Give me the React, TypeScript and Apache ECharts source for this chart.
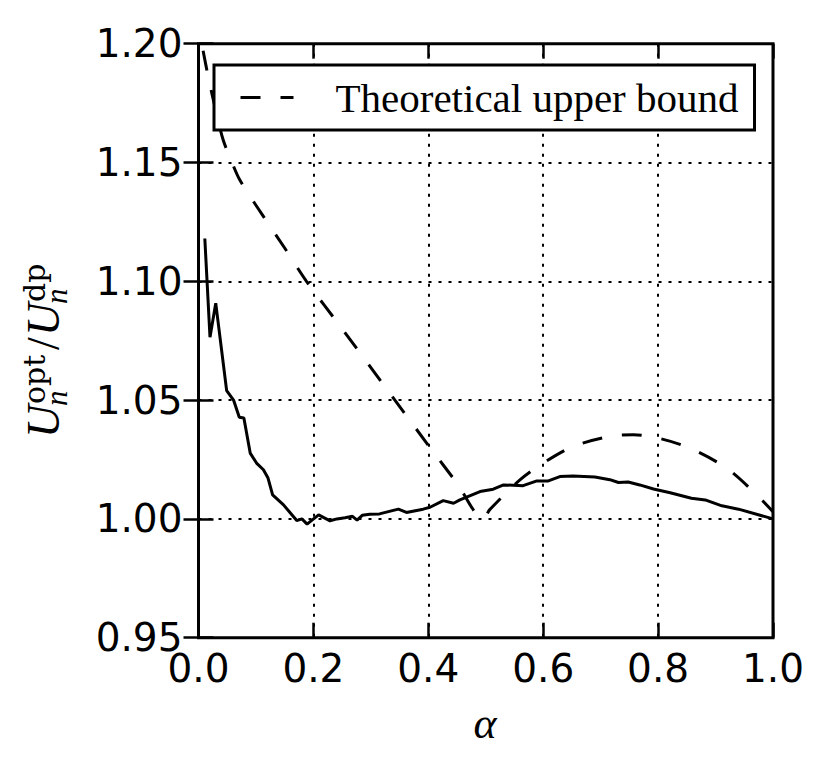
import React, { useEffect, useRef } from "react";
import * as echarts from "echarts";

// Simulated ratio (solid line)
const alphaSim = [
  0.011, 0.02, 0.03, 0.049, 0.061, 0.071, 0.079, 0.09, 0.101, 0.113, 0.121, 0.129,
  0.148, 0.171, 0.18, 0.189, 0.209, 0.229, 0.241, 0.255, 0.268, 0.276, 0.285, 0.298,
  0.315, 0.348, 0.362, 0.391, 0.403, 0.426, 0.444, 0.455, 0.49, 0.513, 0.531, 0.565,
  0.589, 0.609, 0.629, 0.652, 0.69, 0.716, 0.731, 0.748, 0.768, 0.792, 0.821, 0.858,
  0.882, 0.911, 0.94, 1.0,
];
const ratioSim = [
  1.118, 1.0765, 1.0908, 1.054, 1.05, 1.0428, 1.0425, 1.0277, 1.0235, 1.0207, 1.0172, 1.0101,
  1.0059, 0.9993, 1.0, 0.9978, 1.0017, 0.9992, 1.0, 1.0005, 1.0011, 0.9995, 1.0015, 1.002,
  1.0021, 1.0041, 1.0027, 1.0041, 1.0049, 1.0077, 1.0066, 1.008, 1.0115, 1.0125, 1.0143, 1.014,
  1.016, 1.016, 1.0178, 1.0181, 1.0176, 1.0165, 1.0153, 1.0155, 1.0143, 1.0126, 1.011, 1.0087,
  1.008, 1.0055, 1.0041, 1.0,
];

// Theoretical upper bound (dashed line)
const alphaBound = [
  0.008, 0.017, 0.03, 0.043, 0.06, 0.072, 0.1, 0.15, 0.188, 0.25, 0.333, 0.4, 0.45, 0.496,
  0.507, 0.56, 0.6, 0.652, 0.716, 0.757, 0.8, 0.855, 0.919, 0.972, 1.0,
];
const ratioBound = [
  1.197, 1.186, 1.172, 1.1595, 1.149, 1.1426, 1.132, 1.114, 1.1, 1.08, 1.0529, 1.031, 1.015, 1.0,
  1.0039, 1.0165, 1.0235, 1.0305, 1.0347, 1.0354, 1.034, 1.0298, 1.0214, 1.0101, 1.003,
];

const xTicks = [0.0, 0.2, 0.4, 0.6, 0.8, 1.0];
const yTicks = [0.95, 1.0, 1.05, 1.1, 1.15, 1.2];
const boundName = "Theoretical upper bound";

export default function App() {
  const ref = useRef<HTMLDivElement>(null);
  useEffect(() => {
    document.body.style.margin = "0";
    const chart = echarts.init(ref.current!, null, { renderer: "svg" });
    const tickStyle = { color: "#000", width: 2.5 };
    const gridDots = { color: "#000", width: 2, type: [3, 7] as number[] };
    const xBase = {
      type: "value" as const,
      min: xTicks[0],
      max: xTicks[xTicks.length - 1],
      interval: 0.2,
      axisLine: { show: false },
      axisTick: { show: true, inside: true, length: 15, lineStyle: tickStyle },
    };
    const yBase = {
      type: "value" as const,
      min: yTicks[0],
      max: yTicks[yTicks.length - 1],
      interval: 0.05,
      axisLine: { show: false },
      axisTick: { show: true, inside: true, length: 15, lineStyle: tickStyle },
    };
    const labelFont = { fontFamily: "DejaVu Sans", fontSize: 39, color: "#000" };
    const scriptU = { fontFamily: "Liberation Serif", fontStyle: "italic", fontSize: 46, fill: "#000", align: "left", verticalAlign: "middle" };
    const scriptSup = { fontFamily: "DejaVu Serif", fontSize: 30, fill: "#000", align: "left", verticalAlign: "middle" };
    const scriptSub = { fontFamily: "Liberation Serif", fontStyle: "italic", fontSize: 31, fill: "#000", align: "left", verticalAlign: "middle" };
    chart.setOption({
      animation: false,
      backgroundColor: "#fff",
      grid: {
        left: 198.5,
        top: 43.7,
        width: 574.5,
        height: 594,
        show: true,
        borderColor: "#000",
        borderWidth: 3,
        backgroundColor: "transparent",
      },
      xAxis: [
        {
          ...xBase,
          position: "bottom",
          axisLabel: {
            ...labelFont,
            margin: 11,
            showMinLabel: true,
            showMaxLabel: true,
            formatter: (v: number) => v.toFixed(1),
          },
          splitLine: { show: true, lineStyle: gridDots },
        },
        {
          ...xBase,
          position: "top",
          axisLabel: { show: false },
          splitLine: { show: false },
        },
      ],
      yAxis: [
        {
          ...yBase,
          position: "left",
          axisLabel: {
            ...labelFont,
            margin: 16,
            showMinLabel: true,
            showMaxLabel: true,
            formatter: (v: number) => v.toFixed(2),
          },
          splitLine: { show: true, lineStyle: gridDots },
        },
        {
          ...yBase,
          position: "right",
          axisLabel: { show: false },
          splitLine: { show: false },
        },
      ],
      legend: {
        data: [boundName],
        left: 214,
        top: 65,
        padding: [12, 16, 12, 25],
        backgroundColor: "#fff",
        borderColor: "#000",
        borderWidth: 3,
        borderRadius: 0,
        itemWidth: 53,
        itemHeight: 20,
        itemStyle: { opacity: 0 },
        lineStyle: { width: 3, color: "#000", type: [20, 20] },
        textStyle: {
          fontFamily: "Liberation Serif",
          fontSize: 41,
          color: "#000",
          padding: [0, 0, 0, 37],
        },
      },
      series: [
        {
          name: "Simulation",
          type: "line",
          xAxisIndex: 0,
          yAxisIndex: 0,
          data: alphaSim.map((a, i) => [a, ratioSim[i]]),
          symbol: "none",
          showSymbol: false,
          lineStyle: { color: "#000", width: 3 },
          z: 3,
        },
        {
          name: boundName,
          type: "line",
          xAxisIndex: 0,
          yAxisIndex: 0,
          data: alphaBound.map((a, i) => [a, ratioBound[i]]),
          symbol: "none",
          showSymbol: false,
          smooth: 0.3,
          lineStyle: { color: "#000", width: 3, type: [20, 20] },
          itemStyle: { color: "#000" },
          z: 3,
        },
      ],
      graphic: [
        {
          type: "text",
          x: 485,
          y: 723,
          style: {
            text: "α",
            fontFamily: "Liberation Serif",
            fontStyle: "italic",
            fontSize: 44,
            fill: "#000",
            align: "center",
            verticalAlign: "middle",
          },
        },
        {
          type: "group",
          x: 59,
          y: 438,
          rotation: Math.PI / 2,
          children: [
            { type: "text", x: 0, y: -16, style: { ...scriptU, text: "U" } },
            { type: "text", x: 34, y: -25, style: { ...scriptSup, text: "opt" } },
            { type: "text", x: 32, y: -3, style: { ...scriptSub, text: "n" } },
            { type: "text", x: 88, y: -16, style: { ...scriptU, fontStyle: "normal", text: "/" } },
            { type: "text", x: 102, y: -16, style: { ...scriptU, text: "U" } },
            { type: "text", x: 136, y: -25, style: { ...scriptSup, text: "dp" } },
            { type: "text", x: 134, y: -3, style: { ...scriptSub, text: "n" } },
          ],
        },
      ],
    });
    return () => chart.dispose();
  }, []);
  return <div ref={ref} style={{ width: 831, height: 773 }} />;
}
